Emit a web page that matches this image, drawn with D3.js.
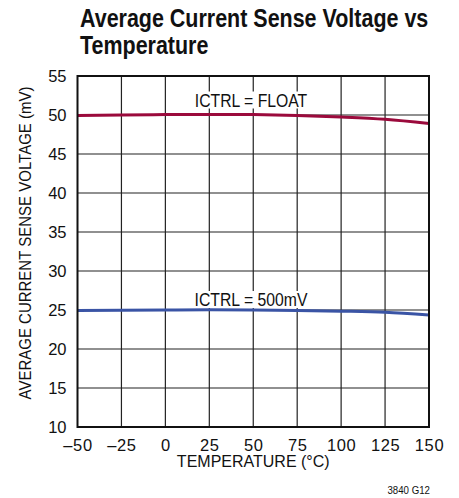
<!DOCTYPE html>
<html><head><meta charset="utf-8">
<script src="https://cdn.jsdelivr.net/npm/d3@7"></script>
<style>
body{margin:0;background:#fff;}
svg{display:block;}
text{font-family:"Liberation Sans",Arial,sans-serif;fill:#111;}
</style></head><body>
<svg id="c" width="459" height="498"></svg>
<script>
const temps = [-50,-25,0,25,50,75,100,125,150];
const floatSeries = [49.95,50.0,50.05,50.08,50.05,49.95,49.75,49.45,48.9];
const mv500Series = [24.92,24.97,25.0,25.02,25.0,24.95,24.85,24.7,24.35];
const xTicks = [-50,-25,0,25,50,75,100,125,150];
const yTicks = [10,15,20,25,30,35,40,45,50,55];
const seriesLabels = ["ICTRL = FLOAT","ICTRL = 500mV"];

const svg = d3.select("#c");
const L=77.5, R=429, T=76, B=427;
const x = d3.scaleLinear().domain([-50,150]).range([L,R]);
const y = d3.scaleLinear().domain([10,55]).range([B,T]);

function ctext(parent, txt, tx, ty, size, sx, opts={}){
  const t = parent.append("text")
    .attr("transform",`translate(${tx},${ty}) ${opts.rot?`rotate(${opts.rot})`:""} scale(${sx},1)`)
    .attr("font-size",size)
    .attr("text-anchor",opts.anchor||"start")
    .text(txt);
  if(opts.bold) t.attr("font-weight","bold");
  return t;
}

// title
ctext(svg,"Average Current Sense Voltage vs",80,26.5,26.5,0.81,{bold:true});
ctext(svg,"Temperature",80,53.5,26.5,0.81,{bold:true});

// grid
const g = svg.append("g");
g.selectAll(".vx").data(xTicks.slice(1,-1)).enter().append("line")
 .attr("x1",d=>x(d)).attr("x2",d=>x(d)).attr("y1",T).attr("y2",B)
 .attr("stroke","#222").attr("stroke-width",1.2);
g.selectAll(".hy").data(yTicks.slice(1,-1)).enter().append("line")
 .attr("x1",L).attr("x2",R).attr("y1",d=>y(d)).attr("y2",d=>y(d))
 .attr("stroke","#222").attr("stroke-width",1.2);

// series labels with white background
function label(txt, cx, by){
  const grp = svg.append("g");
  const rect = grp.append("rect").attr("fill","#fff");
  const t = ctext(grp, txt, cx, by, 19, 0.83, {anchor:"middle"});
  const bb = t.node().getBBox();
  const w = bb.width*0.83;
  rect.attr("x",cx-w/2-1).attr("y",by-15).attr("width",w+2).attr("height",17);
}

// lines
const line = d3.line().x((d,i)=>x(temps[i])).y(d=>y(d)).curve(d3.curveMonotoneX);
svg.append("path").datum(floatSeries).attr("d",line).attr("fill","none").attr("stroke","#9b0a3c").attr("stroke-width",3);
svg.append("path").datum(mv500Series).attr("d",line).attr("fill","none").attr("stroke","#3a54a5").attr("stroke-width",3);

label(seriesLabels[0], 251, 106.5);
label(seriesLabels[1], 251, 306);

// frame
svg.append("rect").attr("x",L).attr("y",T).attr("width",R-L).attr("height",B-T).attr("fill","none").attr("stroke","#111").attr("stroke-width",2);

// axes
const xa = svg.append("g").attr("transform",`translate(0,${B})`)
 .call(d3.axisBottom(x).tickValues(xTicks).tickSize(0).tickPadding(12).tickFormat(d=>d<0?"\u2013"+Math.abs(d):d));
xa.select(".domain").remove();
xa.selectAll("text").attr("font-size",16.5).attr("dy","0.71em").style("font-family",'"Liberation Sans",Arial,sans-serif').style("letter-spacing","0.6px").attr("fill","#111");
const ya = svg.append("g").attr("transform",`translate(${L},0)`)
 .call(d3.axisLeft(y).tickValues(yTicks).tickSize(0).tickPadding(11));
ya.select(".domain").remove();
ya.selectAll("text").attr("font-size",16.5).style("font-family",'"Liberation Sans",Arial,sans-serif').attr("fill","#111");

svg.append("text").attr("x",(L+R)/2).attr("y",467).attr("text-anchor","middle").attr("font-size",16).text("TEMPERATURE (°C)");
ctext(svg,"AVERAGE CURRENT SENSE VOLTAGE (mV)",31,243,16.3,0.92,{anchor:"middle",rot:-90});
ctext(svg,"3840 G12",430,494,11,0.88,{anchor:"end"});
</script></body></html>
